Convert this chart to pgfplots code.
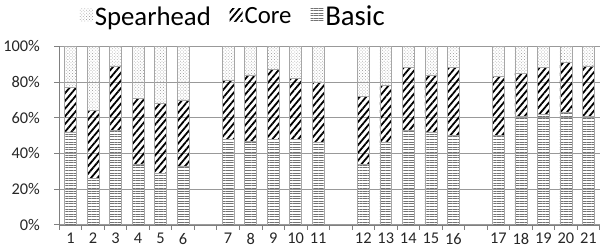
\documentclass[border=0pt]{standalone}
\usepackage{fontspec}
\setmainfont{Carlito}
\usepackage{pgfplots}
\usepackage{pgfplotstable}
\pgfplotsset{compat=1.18}
\usetikzlibrary{patterns,patterns.meta}
\pgfplotstableread{
x basic core spear
1 52 25 23
2 26 38 36
3 53 36 11
4 34 37 29
5 29 39 32
6 33 37 30
8 48 33 19
9 47 37 16
10 48 39 13
11 48 34 18
12 46 34 20
14 34 38 28
15 46 32 22
16 53 35 12
17 52 32 16
18 50 38 12
20 50 33 17
21 61 24 15
22 62 26 12
23 63 28 9
24 61 28 11
}\data
\begin{document}
\begin{tikzpicture}
\begin{axis}[
  scale only axis,
  width=545pt, height=180pt,
  xmin=0.5, xmax=24.5,
  ymin=0, ymax=100,
  ybar stacked,
  bar width=12pt,
  axis x line*=bottom,
  axis y line*=left,
  axis line style={gray},
  ymajorgrids,
  grid style={gray!80, line width=0.8pt},
  tick align=outside,
  major tick length=5pt,
  tick style={gray, line width=0.8pt},
  ytick={0,20,40,60,80,100},
  yticklabel={\pgfmathprintnumber{\tick}\%},
  yticklabel style={xshift=-11pt},
  xtick={0.5,1.5,...,24.5},
  xticklabels={},
  extra x ticks={1,2,3,4,5,6,8,9,10,11,12,14,15,16,17,18,20,21,22,23,24},
  extra x tick labels={1,2,3,4,5,6,7,8,9,10,11,12,13,14,15,16,17,18,19,20,21},
  extra x tick style={major tick length=0pt, grid=none,
    xticklabel style={yshift=-5pt, anchor=north}},
  ticklabel style={font=\fontsize{16.5}{17}\selectfont, text=black!85},
  /pgf/number format/assume math mode=true,
  every axis plot/.append style={draw=gray!70, line width=0.5pt},
  reverse legend,
  legend columns=-1,
  legend style={at={(0.322,1)}, anchor=south, yshift=13pt, draw=none, fill=none,
    font=\fontsize{25}{27}\selectfont, inner sep=4pt,
    /tikz/every even column/.append style={column sep=17pt}},
  legend image code/.code={\draw[#1, draw=none] (0pt,-5pt) rectangle (13pt,8pt);},
]
\addplot[pattern={Lines[angle=0, distance=2.6pt, line width=1pt]}, pattern color=gray!90!black] table[x=x, y=basic] {\data};
\addplot[pattern={Lines[angle=50, distance=5pt, line width=1.8pt]}, pattern color=black] table[x=x, y=core] {\data};
\addplot[pattern={Dots[radius=0.55pt, distance=2.2pt, angle=45]}, pattern color=gray!70] table[x=x, y=spear] {\data};
\legend{{\fontsize{29}{31}\selectfont Basic},Core,{\fontsize{27}{29}\selectfont Spearhead}}
\end{axis}
\end{tikzpicture}
\end{document}
